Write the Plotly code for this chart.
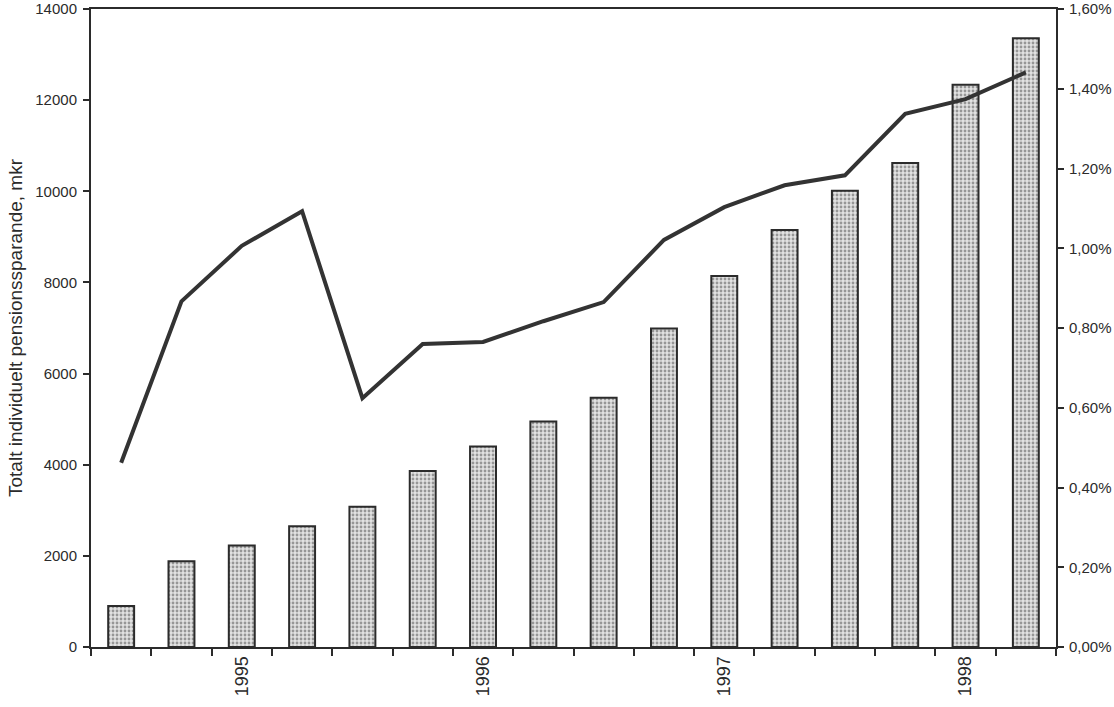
import plotly.graph_objects as go

periods = ["1994K3", "1994K4", "1995K1", "1995K2", "1995K3", "1995K4",
           "1996K1", "1996K2", "1996K3", "1996K4", "1997K1", "1997K2",
           "1997K3", "1997K4", "1998K1", "1998K2"]
year_labels = ["", "", "1995", "", "", "", "1996", "", "", "", "1997", "", "", "", "1998", ""]
savings_mkr = [900, 1880, 2230, 2650, 3080, 3860, 4400, 4950, 5470, 6990,
               8140, 9150, 10010, 10620, 12340, 13360]
share_pct = [0.462, 0.867, 1.006, 1.093, 0.624, 0.760, 0.765, 0.817, 0.865,
             1.021, 1.103, 1.158, 1.183, 1.337, 1.374, 1.441]

left_ticks = [0, 2000, 4000, 6000, 8000, 10000, 12000, 14000]
left_labels = ["0", "2000", "4000", "6000", "8000", "10000", "12000", "14000"]
right_ticks = [0.0, 0.2, 0.4, 0.6, 0.8, 1.0, 1.2, 1.4, 1.6]
right_labels = ["0,00%", "0,20%", "0,40%", "0,60%", "0,80%", "1,00%", "1,20%", "1,40%", "1,60%"]

ink = "#2b2b2b"
font = dict(family="Liberation Sans, Arial, sans-serif", size=15, color=ink)

fig = go.Figure()
fig.add_trace(go.Bar(
    x=periods, y=savings_mkr, yaxis="y",
    marker=dict(color="#d9d9d9",
                line=dict(color=ink, width=2),
                pattern=dict(shape=".", fgcolor="#4a4a4a", bgcolor="#e2e2e2",
                             size=4, solidity=0.4)),
    showlegend=False,
))
fig.add_trace(go.Scatter(
    x=periods, y=share_pct, yaxis="y2", mode="lines",
    line=dict(color="#333333", width=4),
    showlegend=False,
))

fig.update_layout(
    width=1114, height=707,
    margin=dict(l=91, r=58, t=9, b=60, autoexpand=False),
    paper_bgcolor="white", plot_bgcolor="white",
    font=font,
    bargap=0.57,
    xaxis=dict(
        type="category", categoryorder="array", categoryarray=periods,
        tickvals=periods, ticktext=year_labels,
        tickson="boundaries", ticks="outside", ticklen=7, tickwidth=1.5,
        tickcolor=ink, tickangle=-90, tickfont=dict(size=18),
        showline=True, linecolor=ink, linewidth=2, mirror=True,
        showgrid=False, zeroline=False, automargin=False,
    ),
    yaxis=dict(
        range=[0, 14000], tickvals=left_ticks, ticktext=left_labels,
        ticks="outside", ticklen=6, tickwidth=1.5, tickcolor=ink,
        showline=True, linecolor=ink, linewidth=2,
        showgrid=False, zeroline=False, automargin=False,
        ticklabeloverflow="allow", ticklabelstandoff=3,
        title=dict(text="Totalt individuelt pensionssparande, mkr",
                   font=dict(size=19), standoff=8),
    ),
    yaxis2=dict(
        range=[0, 1.6], tickvals=right_ticks, ticktext=right_labels,
        overlaying="y", side="right",
        ticks="outside", ticklen=6, tickwidth=1.5, tickcolor=ink,
        showline=True, linecolor=ink, linewidth=2,
        showgrid=False, zeroline=False, automargin=False,
        ticklabeloverflow="allow", ticklabelstandoff=2,
    ),
)

fig.write_html("out.html", config={"displayModeBar": False},
               post_script="document.body.style.margin='0';")
